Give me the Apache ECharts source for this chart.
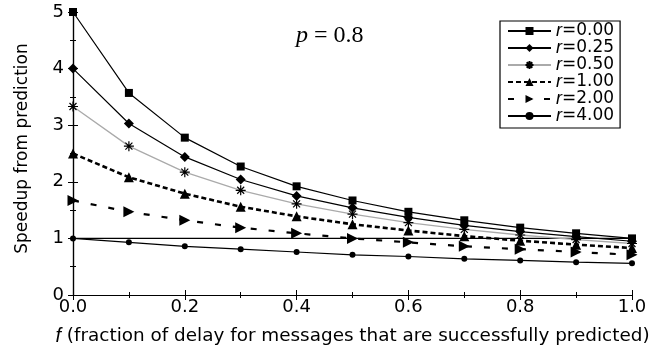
<!DOCTYPE html>
<html>
<head>
<meta charset="utf-8">
<script src="https://cdn.jsdelivr.net/npm/echarts@6/dist/echarts.min.js"></script>
<style>html,body{margin:0;padding:0;background:#fff}#c{width:667px;height:351px}</style>
</head>
<body>
<div id="c"></div>
<script>
const fValues = [0.0, 0.1, 0.2, 0.3, 0.4, 0.5, 0.6, 0.7, 0.8, 0.9, 1.0];
const xTicks = ['0.0', '0.2', '0.4', '0.6', '0.8', '1.0'];
const yTicks = ['0', '1', '2', '3', '4', '5'];
const seriesNames = ['r=0.00', 'r=0.25', 'r=0.50', 'r=1.00', 'r=2.00', 'r=4.00'];
const r000 = [5.00, 3.57, 2.78, 2.27, 1.92, 1.67, 1.47, 1.32, 1.19, 1.09, 1.00];
const r025 = [4.00, 3.03, 2.44, 2.04, 1.75, 1.54, 1.37, 1.23, 1.12, 1.03, 0.95];
const r050 = [3.33, 2.63, 2.17, 1.85, 1.61, 1.43, 1.28, 1.16, 1.06, 0.98, 0.91];
const r100 = [2.50, 2.08, 1.79, 1.56, 1.39, 1.25, 1.14, 1.04, 0.96, 0.89, 0.83];
const r200 = [1.67, 1.47, 1.32, 1.19, 1.09, 1.00, 0.93, 0.86, 0.81, 0.76, 0.71];
const r400 = [1.00, 0.93, 0.86, 0.81, 0.76, 0.71, 0.68, 0.64, 0.61, 0.58, 0.56];
const baseline = [1, 1];
const baselineX = [0, 1];

const pairs = (ys) => fValues.map((x, i) => [x, ys[i]]);
const FONT = '"DejaVu Sans", sans-serif';
const IFONT = '"Liberation Sans", Arial, sans-serif';
const SERIF = '"Liberation Serif", "Times New Roman", serif';

const chart = echarts.init(document.getElementById('c'));

function mk(name, ys, opts) {
  return Object.assign({
    name: name,
    type: 'line',
    data: pairs(ys),
    xAxisIndex: 0, yAxisIndex: 0,
    symbolKeepAspect: true,
    emphasis: {disabled: true},
    silent: true
  }, opts);
}

const series = [
  {
    name: 'base', type: 'line',
    data: baselineX.map((x, i) => [x, baseline[i]]),
    symbol: 'none',
    lineStyle: {color: '#000', width: 1.3},
    emphasis: {disabled: true}, silent: true
  },
  mk(seriesNames[5], r400, {
    symbol: 'circle', symbolSize: 6,
    itemStyle: {color: '#000'},
    lineStyle: {color: '#000', width: 1.2}
  }),
  mk(seriesNames[4], r200, {
    symbol: 'path://M0,0L10,5L0,10Z', symbolSize: 11,
    itemStyle: {color: '#000'},
    lineStyle: {color: '#000', width: 2.2, type: [6, 12]}
  }),
  mk(seriesNames[3], r100, {
    symbol: 'triangle', symbolSize: 10,
    itemStyle: {color: '#000'},
    lineStyle: {color: '#000', width: 2.6, type: [5, 3]}
  }),
  mk(seriesNames[2], r050, {
    symbol: 'path://M5,0L5,10M0,5L10,5M1.5,1.5L8.5,8.5M1.5,8.5L8.5,1.5', symbolSize: 10,
    itemStyle: {color: 'none', borderColor: '#000', borderWidth: 1.2},
    lineStyle: {color: '#aaaaaa', width: 1.3}
  }),
  mk(seriesNames[1], r025, {
    symbol: 'diamond', symbolSize: 10,
    itemStyle: {color: '#000'},
    lineStyle: {color: '#000', width: 1.2}
  }),
  mk(seriesNames[0], r000, {
    symbol: 'rect', symbolSize: 8,
    itemStyle: {color: '#000'},
    lineStyle: {color: '#000', width: 1.2}
  })
];

const tickStyle = {lineStyle: {color: '#000', width: 1}};

chart.setOption({
  animation: false,
  backgroundColor: '#fff',
  textStyle: {fontFamily: FONT, color: '#000'},
  title: {
    text: '{i|p} = 0.8',
    left: 291, top: 19,
    textStyle: {
      fontFamily: SERIF, fontSize: 24, fontWeight: 'normal', color: '#000',
      rich: {i: {fontStyle: 'italic', fontFamily: SERIF, fontSize: 24, color: '#000'}}
    }
  },
  legend: {
    data: seriesNames,
    orient: 'vertical',
    left: 500, top: 21,
    padding: [1, 6, 3, 7],
    itemGap: -1,
    itemWidth: 43, itemHeight: 10,
    borderColor: '#000', borderWidth: 1.2,
    backgroundColor: '#fff',
    selectedMode: false,
    formatter: (n) => '{i|r}{n|' + n.slice(1) + '}',
    textStyle: {
      fontFamily: FONT, fontSize: 17, color: '#000', lineHeight: 16,
      rich: {
        i: {fontStyle: 'italic', fontFamily: IFONT, fontSize: 18, color: '#000', lineHeight: 16, height: 16},
        n: {fontFamily: FONT, fontSize: 17, color: '#000', lineHeight: 16, height: 16}
      }
    }
  },
  grid: {left: 73, right: 35, top: 12, bottom: 54, containLabel: false},
  xAxis: [
    {
      type: 'value', min: 0, max: 1, interval: 0.2, position: 'bottom',
      name: '{i|f} (fraction of delay for messages that are successfully predicted)',
      nameLocation: 'middle', nameGap: 31,
      nameTextStyle: {
        fontFamily: FONT, fontSize: 18.4, color: '#000',
        rich: {i: {fontStyle: 'italic', fontFamily: IFONT, fontSize: 20, color: '#000'}}
      },
      axisLine: {show: true, lineStyle: {color: '#000', width: 1.2}},
      axisTick: Object.assign({show: true, inside: true, length: 5}, tickStyle),
      minorTick: {show: true, splitNumber: 2, length: 3, lineStyle: {color: '#000', width: 1}},
      splitLine: {show: false},
      axisLabel: {
        fontFamily: FONT, fontSize: 18, color: '#000', margin: 3,
        formatter: (v) => { const s = v.toFixed(1); return xTicks.indexOf(s) >= 0 ? s : ''; }
      }
    },
    {
      type: 'value', min: 0, max: 1, interval: 0.2, position: 'top',
      axisLine: {show: true, lineStyle: {color: '#000', width: 1.2}},
      axisTick: Object.assign({show: true, inside: true, length: 5}, tickStyle),
      minorTick: {show: true, splitNumber: 2, length: 3, lineStyle: {color: '#000', width: 1}},
      splitLine: {show: false},
      axisLabel: {show: false}
    }
  ],
  yAxis: [
    {
      type: 'value', min: 0, max: 5, interval: 1, position: 'left',
      name: 'Speedup from prediction',
      nameLocation: 'middle', nameGap: 42,
      nameTextStyle: {fontFamily: FONT, fontSize: 17, color: '#000', padding: [0, 0, 0, 10]},
      axisLine: {show: true, lineStyle: {color: '#000', width: 1.2}},
      axisTick: Object.assign({show: true, inside: true, length: 5}, tickStyle),
      minorTick: {show: true, splitNumber: 2, length: 3, lineStyle: {color: '#000', width: 1}},
      splitLine: {show: false},
      axisLabel: {
        fontFamily: FONT, fontSize: 18, color: '#000', margin: 9,
        formatter: (v) => { const s = String(Math.round(v)); return yTicks.indexOf(s) >= 0 ? s : ''; }
      }
    },
    {
      type: 'value', min: 0, max: 5, interval: 1, position: 'right',
      axisLine: {show: true, lineStyle: {color: '#000', width: 1.2}},
      axisTick: Object.assign({show: true, inside: true, length: 5}, tickStyle),
      minorTick: {show: true, splitNumber: 2, length: 3, lineStyle: {color: '#000', width: 1}},
      splitLine: {show: false},
      axisLabel: {show: false}
    }
  ],
  series: series
});
</script>
</body>
</html>
